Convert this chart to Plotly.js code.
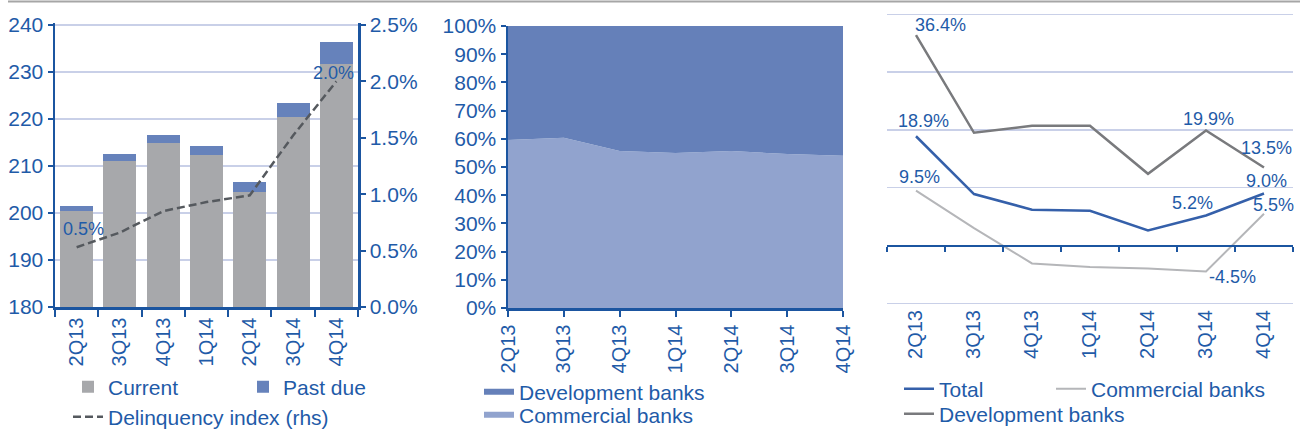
<!DOCTYPE html>
<html><head><meta charset="utf-8">
<script src="https://cdn.plot.ly/plotly-3.0.1.min.js"></script>
<style>html,body{margin:0;padding:0;background:#fff;} #chart{width:1300px;height:438px;}</style>
</head><body><div id="chart"></div>
<script>
// ---------- data ----------
const quarters = ['2Q13', '3Q13', '4Q13', '1Q14', '2Q14', '3Q14', '4Q14'];

// Left panel: loan portfolio (bn) and delinquency index (%)
const currentLoans = [200.5, 211.1, 214.9, 212.3, 204.5, 220.4, 231.8];
const pastDueLoans = [1.0, 1.4, 1.8, 2.0, 2.0, 3.1, 4.6];
const delinquencyIndex = [0.53, 0.66, 0.85, 0.93, 0.99, 1.52, 2.0];
const delinquencyLabels = ['0.5%', '', '', '', '', '', '2.0%'];

// Middle panel: share of portfolio (%)
const commercialShare = [59.6, 60.4, 55.7, 55.0, 55.7, 54.6, 54.0];
const developmentShare = [40.4, 39.6, 44.3, 45.0, 44.3, 45.4, 46.0];

// Right panel: annual growth (%)
const growthTotal = [18.9, 8.9, 6.2, 6.0, 2.6, 5.2, 9.0];
const growthCommercial = [9.5, 3.0, -3.1, -3.7, -4.0, -4.5, 5.5];
const growthDevelopment = [36.4, 19.5, 20.7, 20.7, 12.4, 19.9, 13.5];
const totalLabels = ['18.9%', '', '', '', '', '5.2%', '9.0%'];
const commercialLabels = ['9.5%', '', '', '', '', '-4.5%', '5.5%'];
const developmentLabels = ['36.4%', '', '', '', '', '19.9%', '13.5%'];

// ---------- styles ----------
const FONT = 'Liberation Sans, Arial, sans-serif';
const BLUE_TEXT = '#1f5ba8';
const AXIS_BLUE = '#1b55a0';
const GRID = '#c9d0e8';
const W = 1300, H = 438;

const labelOffsets = {
  delinquency: {0: [7, 18], 6: [-3, 8]},
  total: {0: [7, 15], 5: [-14, 12], 6: [2, 12]},
  commercial: {0: [3, 14], 5: [26, -5], 6: [9, 9]},
  development: {0: [24, 10], 5: [2, 11], 6: [2, 19]}
};

function labelAnnotations(labels, values, xref, yref, offsets) {
  const out = [];
  labels.forEach((t, i) => {
    if (!t) return;
    const o = offsets[i] || [0, 12];
    out.push({
      x: quarters[i], y: values[i], xref: xref, yref: yref, text: t,
      showarrow: false, xanchor: 'center', yanchor: 'middle',
      xshift: o[0], yshift: o[1],
      font: {family: FONT, size: 18, color: BLUE_TEXT}
    });
  });
  return out;
}

// domain (paper fraction) so that value vLow sits at pixel pxLow and vHigh at pxHigh,
// with the axis range extended to [rLow, rHigh]
function domainFor(pxLow, pxHigh, vLow, vHigh, rLow, rHigh) {
  const ppu = (pxLow - pxHigh) / (vHigh - vLow);
  const bottomPx = pxLow + (vLow - rLow) * ppu;
  const topPx = pxHigh - (rHigh - vHigh) * ppu;
  return [1 - bottomPx / H, 1 - topPx / H];
}

const tickFont = {family: FONT, size: 21, color: BLUE_TEXT};
const xTickFont = {family: FONT, size: 20, color: BLUE_TEXT};

function legend(xpx, ypx, entrywidth) {
  const l = {
    x: xpx / W, y: 1 - ypx / H, xanchor: 'left', yanchor: 'middle',
    orientation: 'h', traceorder: 'normal', bgcolor: 'rgba(0,0,0,0)', borderwidth: 0,
    font: {family: FONT, size: 21, color: BLUE_TEXT}, itemwidth: 30
  };
  if (entrywidth) { l.entrywidth = entrywidth; l.entrywidthmode = 'pixels'; }
  return l;
}

const traces = [
  // left
  {type: 'bar', name: 'Current', x: quarters, y: currentLoans, xaxis: 'x', yaxis: 'y',
   marker: {color: '#a7a8ab', line: {width: 0}}, legend: 'legend'},
  {type: 'bar', name: 'Past due', x: quarters, y: pastDueLoans, xaxis: 'x', yaxis: 'y',
   marker: {color: '#6682bb', line: {width: 0}}, legend: 'legend'},
  {type: 'scatter', mode: 'lines', name: 'Delinquency index (rhs)', x: quarters, y: delinquencyIndex,
   xaxis: 'x', yaxis: 'y2', line: {color: '#55595e', width: 2.5, dash: '8px,4px'}, legend: 'legend2'},
  // middle
  {type: 'scatter', mode: 'none', name: 'Commercial banks', x: quarters, y: commercialShare,
   xaxis: 'x2', yaxis: 'y3', stackgroup: 'share', fillcolor: '#91a3ce', legend: 'legend4'},
  {type: 'scatter', mode: 'none', name: 'Development banks', x: quarters, y: developmentShare,
   xaxis: 'x2', yaxis: 'y3', stackgroup: 'share', fillcolor: '#6580b9', legend: 'legend3'},
  // right
  {type: 'scatter', mode: 'lines', name: 'Total', x: quarters, y: growthTotal,
   xaxis: 'x3', yaxis: 'y4', line: {color: '#3560aa', width: 2.5}, legend: 'legend5'},
  {type: 'scatter', mode: 'lines', name: 'Commercial banks', x: quarters, y: growthCommercial,
   xaxis: 'x4', yaxis: 'y4', line: {color: '#b5b6b9', width: 2}, legend: 'legend7'},
  {type: 'scatter', mode: 'lines', name: 'Development banks', x: quarters, y: growthDevelopment,
   xaxis: 'x3', yaxis: 'y4', line: {color: '#797a7d', width: 2.5}, legend: 'legend6'}
];

const leftRange = [180, 240.4];
const leftRange2 = [0, 2.5 * (leftRange[1] - 180) / 60];
const leftY = domainFor(307, 25, 180, 240, leftRange[0], leftRange[1]);
const midY = [1 - 308 / H, 1 - 26 / H];
const rightRange = [-10.3, 40.3];
const rightY = domainFor(303.3, 14.3, -10, 40, rightRange[0], rightRange[1]);
const zeroPos = rightY[0] + (0 - rightRange[0]) / (rightRange[1] - rightRange[0]) * (rightY[1] - rightY[0]);

const layout = {
  width: W, height: H,
  margin: {l: 0, r: 0, t: 0, b: 0},
  paper_bgcolor: '#fff', plot_bgcolor: 'rgba(0,0,0,0)',
  barmode: 'stack', bargap: 0.24,
  showlegend: true,
  font: {family: FONT, color: BLUE_TEXT},
  // left panel
  xaxis: {domain: [55 / W, 358 / W], anchor: 'y', type: 'category', tickson: 'boundaries',
    ticks: 'outside', ticklen: 7, tickwidth: 2, tickcolor: AXIS_BLUE, showline: true,
    linecolor: AXIS_BLUE, linewidth: 2.5, tickangle: -90, tickfont: xTickFont, showgrid: false,
    fixedrange: true},
  yaxis: {domain: leftY, anchor: 'x', range: leftRange, dtick: 10, tick0: 180,
    ticks: 'outside', ticklen: 5, tickwidth: 2, tickcolor: AXIS_BLUE, showline: true,
    linecolor: AXIS_BLUE, linewidth: 2.5, tickfont: tickFont, showgrid: true,
    gridcolor: GRID, gridwidth: 1.5, zeroline: false, fixedrange: true},
  yaxis2: {domain: leftY, anchor: 'x', overlaying: 'y', side: 'right', range: leftRange2,
    dtick: 0.5, tick0: 0, tickformat: '.1f', ticksuffix: '%', ticks: 'outside', ticklen: 5,
    tickwidth: 2, tickcolor: AXIS_BLUE, showline: true, linecolor: AXIS_BLUE, linewidth: 2.5,
    tickfont: tickFont, showgrid: false, zeroline: false, fixedrange: true},
  // middle panel
  xaxis2: {domain: [508 / W, 843 / W], anchor: 'y3', type: 'category', range: [0, 6],
    ticks: 'outside', ticklen: 6, tickwidth: 2, tickcolor: AXIS_BLUE, showline: true,
    linecolor: AXIS_BLUE, linewidth: 2.5, tickangle: -90, tickfont: xTickFont, showgrid: false,
    fixedrange: true},
  yaxis3: {domain: midY, anchor: 'x2', range: [0, 100], dtick: 10, tick0: 0, ticksuffix: '%',
    ticks: 'outside', ticklen: 5, tickwidth: 2, tickcolor: AXIS_BLUE, showline: true,
    linecolor: AXIS_BLUE, linewidth: 2.5, tickfont: tickFont, showgrid: false, zeroline: false,
    fixedrange: true},
  // right panel
  xaxis3: {domain: [887 / W, 1293 / W], anchor: 'y4', type: 'category', range: [-0.5, 6.5],
    ticks: '', showline: false, tickangle: -90, tickfont: xTickFont, showgrid: false,
    fixedrange: true},
  xaxis4: {domain: [887 / W, 1293 / W], overlaying: 'x3', anchor: 'free', position: zeroPos,
    type: 'category', range: [-0.5, 6.5], tickson: 'boundaries', ticks: 'outside', ticklen: 5,
    tickwidth: 2, tickcolor: AXIS_BLUE, showline: true, linecolor: AXIS_BLUE, linewidth: 2.5,
    showticklabels: false, showgrid: false, fixedrange: true},
  yaxis4: {domain: rightY, anchor: 'x3', range: rightRange, dtick: 10, tick0: 0,
    showticklabels: false, ticks: '', showline: false, showgrid: true, gridcolor: GRID,
    gridwidth: 1.5, zeroline: false, fixedrange: true},
  // legends
  legend: legend(68, 387, 130),
  legend2: legend(68, 417),
  legend3: legend(479, 392),
  legend4: legend(479, 415),
  legend5: legend(899, 389),
  legend7: legend(1051, 389),
  legend6: legend(899, 414),
  annotations: [].concat(
    labelAnnotations(delinquencyLabels, delinquencyIndex, 'x', 'y2', labelOffsets.delinquency),
    labelAnnotations(totalLabels, growthTotal, 'x3', 'y4', labelOffsets.total),
    labelAnnotations(commercialLabels, growthCommercial, 'x3', 'y4', labelOffsets.commercial),
    labelAnnotations(developmentLabels, growthDevelopment, 'x3', 'y4', labelOffsets.development)
  ),
  shapes: [
    {type: 'line', xref: 'paper', yref: 'paper', x0: 8 / W, x1: 1, y0: 1 - 1.5 / H, y1: 1 - 1.5 / H,
     line: {color: '#a6a6a6', width: 2}}
  ]
};

Plotly.newPlot('chart', traces, layout, {staticPlot: true, displayModeBar: false});
</script>
</body></html>
